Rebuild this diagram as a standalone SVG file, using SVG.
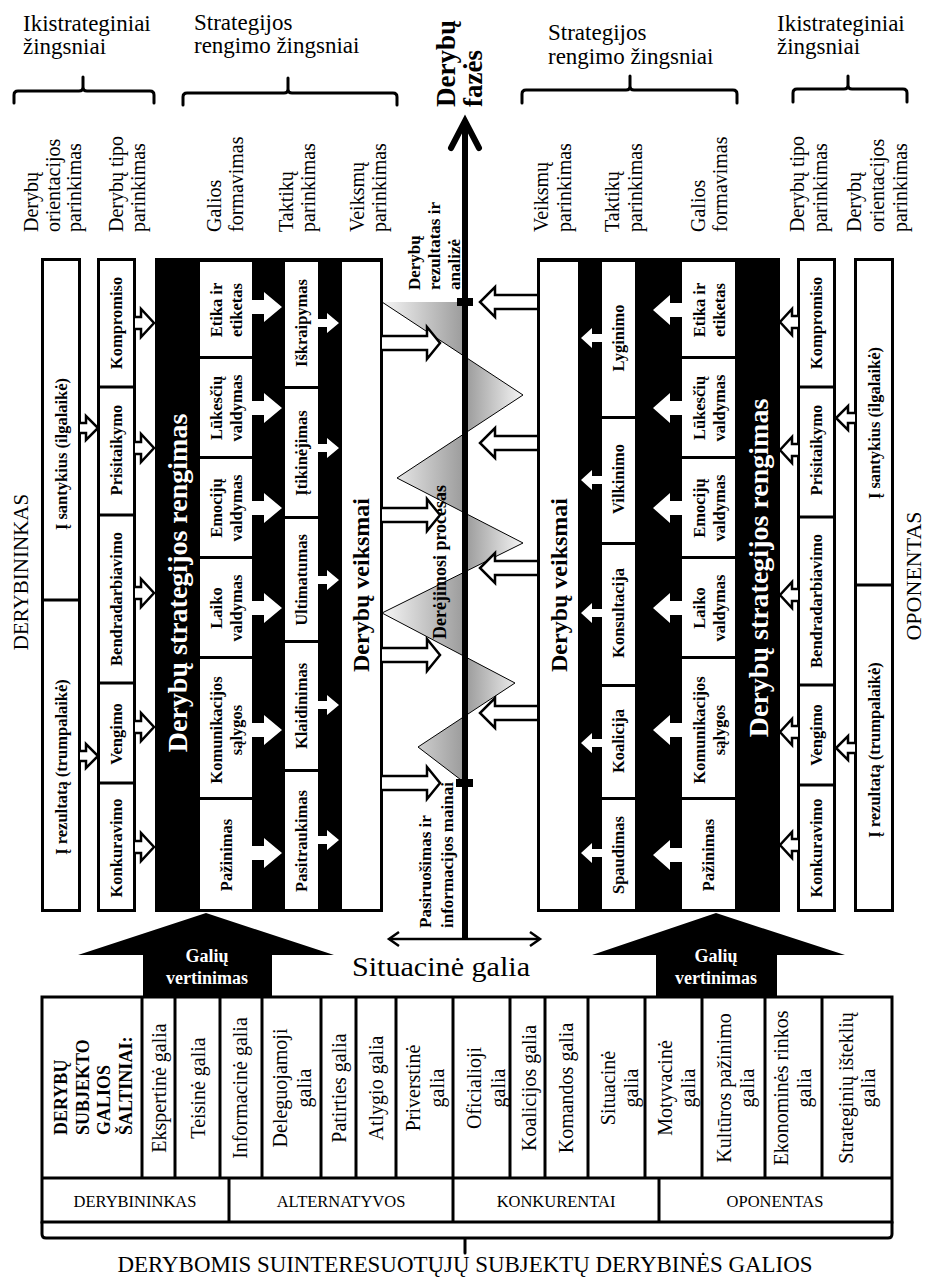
<svg xmlns="http://www.w3.org/2000/svg" width="925" height="1278" viewBox="0 0 925 1278">
<defs>
<style>
text { font-family: "Liberation Serif", "Times New Roman", serif; fill: #000; }
.b { font-weight: bold; }
.m { text-anchor: middle; dominant-baseline: central; }
.st { text-anchor: start; dominant-baseline: central; }
.h { font-size: 23px; }
.cap { font-size: 20px; }
.lbl { font-size: 16.5px; font-weight: bold; }
.tb { font-size: 20px; }
.wt { fill: #fff; }
.frame { fill: #fff; stroke: #000; stroke-width: 3; }
.sep { stroke: #000; stroke-width: 3; }
.brace { fill: none; stroke: #000; stroke-width: 3; stroke-linejoin: round; stroke-linecap: round; }
.ol { fill: #fff; stroke: #000; stroke-width: 2.5; stroke-linejoin: miter; }
.wa { fill: #fff; }
.cell { fill: #fff; }
</style>
<linearGradient id="lobe" gradientUnits="userSpaceOnUse" x1="382" y1="0" x2="523" y2="0">
<stop offset="0" stop-color="#f6f6f6"/>
<stop offset="0.59" stop-color="#9a9a9a"/>
<stop offset="1" stop-color="#f6f6f6"/>
</linearGradient>
</defs>
<rect width="925" height="1278" fill="#fff"/>

<!-- column headings and braces -->
<g id="headings">
<text class="h" x="23" y="31">Ikistrateginiai</text>
<text class="h" x="23" y="54">žingsniai</text>
<text class="h" x="194" y="30">Strategijos</text>
<text class="h" x="194" y="53">rengimo žingsniai</text>
<text class="h" x="548" y="40">Strategijos</text>
<text class="h" x="548" y="64">rengimo žingsniai</text>
<text class="h" x="777" y="31">Ikistrateginiai</text>
<text class="h" x="777" y="54">žingsniai</text>
<path class="brace" d="M14,103 V95 Q14,91 18,91 H79 Q83,91 83,87 V77 M83,87 Q83,91 87,91 H150 Q154,91 154,95 V103"/>
<path class="brace" d="M183,105 V97 Q183,93 187,93 H284 Q288,93 288,89 V78 M288,89 Q288,93 292,93 H393 Q397,93 397,97 V105"/>
<path class="brace" d="M522,103 V94 Q522,90 526,90 H626 Q630,90 630,86 V76 M630,86 Q630,90 634,90 H733 Q737,90 737,94 V103"/>
<path class="brace" d="M793,102 V93 Q793,89 797,89 H844 Q848,89 848,85 V76 M848,85 Q848,89 852,89 H903 Q907,89 907,93 V102"/>

<text class="cap st" transform="translate(31,232) rotate(-90)"><tspan x="0" y="0">Derybų</tspan><tspan x="0" dy="21.5">orientacijos</tspan><tspan x="0" dy="21.5">parinkimas</tspan></text>
<text class="cap st" transform="translate(116,232) rotate(-90)"><tspan x="0" y="0">Derybų tipo</tspan><tspan x="0" dy="22">parinkimas</tspan></text>
<text class="cap st" transform="translate(214,232) rotate(-90)"><tspan x="0" y="0">Galios</tspan><tspan x="0" dy="22">formavimas</tspan></text>
<text class="cap st" transform="translate(286,232) rotate(-90)"><tspan x="0" y="0">Taktikų</tspan><tspan x="0" dy="22">parinkimas</tspan></text>
<text class="cap st" transform="translate(357,232) rotate(-90)"><tspan x="0" y="0">Veiksmų</tspan><tspan x="0" dy="22">parinkimas</tspan></text>

<text class="cap st" transform="translate(541,232) rotate(-90)"><tspan x="0" y="0">Veiksmų</tspan><tspan x="0" dy="23">parinkimas</tspan></text>
<text class="cap st" transform="translate(612,232) rotate(-90)"><tspan x="0" y="0">Taktikų</tspan><tspan x="0" dy="23">parinkimas</tspan></text>
<text class="cap st" transform="translate(698,232) rotate(-90)"><tspan x="0" y="0">Galios</tspan><tspan x="0" dy="22">formavimas</tspan></text>
<text class="cap st" transform="translate(797,232) rotate(-90)"><tspan x="0" y="0">Derybų tipo</tspan><tspan x="0" dy="23">parinkimas</tspan></text>
<text class="cap st" transform="translate(854,232) rotate(-90)"><tspan x="0" y="0">Derybų</tspan><tspan x="0" dy="23">orientacijos</tspan><tspan x="0" dy="23">parinkimas</tspan></text>

<text class="b st" style="font-size:27px" transform="translate(446,107) rotate(-90)"><tspan x="0" y="0">Derybų</tspan><tspan x="0" dy="27">fazės</tspan></text>
</g>

<!-- party labels -->
<text id="label-derybininkas" class="m" style="font-size:21px" transform="translate(21,572) rotate(-90)">DERYBININKAS</text>
<text id="label-oponentas" class="m" style="font-size:22px" transform="translate(913,576) rotate(-90)">OPONENTAS</text>

<!-- process: shaded zigzag between the sides -->
<g id="process">
<polygon points="382,302 523,395 397,478 523,543 382,613 515,683 418,747 465,783 465,302" fill="url(#lobe)"/>
<polyline points="382,302 523,395 397,478 523,543 382,613 515,683 418,747 465,783" fill="none" stroke="#000" stroke-width="1"/>
</g>

<!-- phase axis -->
<g id="phase-axis">
<line x1="465" y1="940" x2="465" y2="123" stroke="#000" stroke-width="6"/>
<polyline points="451,148 465,121 479,148" fill="none" stroke="#000" stroke-width="6" stroke-linecap="round"/>
<rect x="457" y="298" width="16" height="8" fill="#000"/>
<rect x="456" y="779" width="17" height="8" fill="#000"/>
<line x1="390" y1="939" x2="539" y2="939" stroke="#000" stroke-width="2.5"/>
<polyline points="399,932 389,939 399,946" fill="none" stroke="#000" stroke-width="2.5"/>
<polyline points="530,932 540,939 530,946" fill="none" stroke="#000" stroke-width="2.5"/>
<text class="b st" style="font-size:17px" transform="translate(414,290) rotate(-90)"><tspan x="0" y="0">Derybų</tspan><tspan x="0" dy="20">rezultatas ir</tspan><tspan x="0" dy="20">analizė</tspan></text>
<text class="b st" style="font-size:17px" transform="translate(425,928) rotate(-90)"><tspan x="0" y="0">Pasiruošimas ir</tspan><tspan x="0" dy="22">informacijos mainai</tspan></text>
<text class="b m" style="font-size:18px" transform="translate(440,562) rotate(-90)">Derėjimosi procesas</text>
<text class="m" style="font-size:28px" x="441" y="966" textLength="178" lengthAdjust="spacingAndGlyphs">Situacinė galia</text>
</g>

<!-- negotiator side -->
<g id="derybininkas-orientacija">
<rect class="frame" x="42.5" y="259.5" width="37" height="651"/>
<line class="sep" x1="42.5" y1="600" x2="79.5" y2="600"/>
<text class="lbl m" transform="translate(61,454) rotate(-90)">Į santykius (ilgalaikė)</text>
<text class="lbl m" transform="translate(61,767) rotate(-90)">Į rezultatą (trumpalaikė)</text>
</g>
<g id="derybininkas-tipas">
<rect class="frame" x="98.5" y="259.5" width="36" height="651"/>
<line class="sep" x1="98.5" y1="387" x2="134.5" y2="387"/>
<line class="sep" x1="98.5" y1="515" x2="134.5" y2="515"/>
<line class="sep" x1="98.5" y1="683" x2="134.5" y2="683"/>
<line class="sep" x1="98.5" y1="783" x2="134.5" y2="783"/>
<text class="lbl m" transform="translate(116.5,323) rotate(-90)">Kompromiso</text>
<text class="lbl m" transform="translate(116.5,450) rotate(-90)">Prisitaikymo</text>
<text class="lbl m" transform="translate(116.5,599) rotate(-90)">Bendradarbiavimo</text>
<text class="lbl m" transform="translate(116.5,734) rotate(-90)">Vengimo</text>
<text class="lbl m" transform="translate(116.5,848) rotate(-90)">Konkuravimo</text>
</g>
<g id="derybininkas-strategija">
<rect x="155" y="258" width="228" height="654" fill="#000"/>
<text class="b m wt" style="font-size:28px" transform="translate(177,583) rotate(-90)">Derybų strategijos rengimas</text>
<rect class="cell" x="200" y="262" width="52" height="94"/>
<rect class="cell" x="200" y="359" width="52" height="97"/>
<rect class="cell" x="200" y="459" width="52" height="97"/>
<rect class="cell" x="200" y="559" width="52" height="97"/>
<rect class="cell" x="200" y="659" width="52" height="138"/>
<rect class="cell" x="200" y="800" width="52" height="109"/>
<text class="lbl m" transform="translate(226,310) rotate(-90)"><tspan x="0" dy="-10">Etika ir</tspan><tspan x="0" dy="20">etiketas</tspan></text>
<text class="lbl m" transform="translate(226,408) rotate(-90)"><tspan x="0" dy="-10">Lūkesčių</tspan><tspan x="0" dy="20">valdymas</tspan></text>
<text class="lbl m" transform="translate(226,508) rotate(-90)"><tspan x="0" dy="-10">Emocijų</tspan><tspan x="0" dy="20">valdymas</tspan></text>
<text class="lbl m" transform="translate(226,608) rotate(-90)"><tspan x="0" dy="-10">Laiko</tspan><tspan x="0" dy="20">valdymas</tspan></text>
<text class="lbl m" transform="translate(226,730) rotate(-90)"><tspan x="0" dy="-10">Komunikacijos</tspan><tspan x="0" dy="20">sąlygos</tspan></text>
<text class="lbl m" transform="translate(226,855) rotate(-90)">Pažinimas</text>
<rect class="cell" x="285" y="262" width="33" height="124"/>
<rect class="cell" x="285" y="389" width="33" height="127"/>
<rect class="cell" x="285" y="519" width="33" height="121"/>
<rect class="cell" x="285" y="643" width="33" height="126"/>
<rect class="cell" x="285" y="772" width="33" height="137"/>
<text class="lbl m" transform="translate(301.5,323) rotate(-90)">Iškraipymas</text>
<text class="lbl m" transform="translate(301.5,453) rotate(-90)">Įtikinėjimas</text>
<text class="lbl m" transform="translate(301.5,580) rotate(-90)">Ultimatumas</text>
<text class="lbl m" transform="translate(301.5,706) rotate(-90)">Klaidinimas</text>
<text class="lbl m" transform="translate(301.5,841) rotate(-90)">Pasitraukimas</text>
<rect class="cell" x="342" y="262" width="38" height="647"/>
<text class="b m" style="font-size:24px" transform="translate(361,585) rotate(-90)">Derybų veiksmai</text>
</g>

<!-- opponent side -->
<g id="oponentas-strategija">
<rect x="537" y="258" width="243" height="654" fill="#000"/>
<rect class="cell" x="540" y="262" width="38" height="647"/>
<text class="b m" style="font-size:24px" transform="translate(559,585) rotate(-90)">Derybų veiksmai</text>
<rect class="cell" x="602" y="262" width="33" height="154"/>
<rect class="cell" x="602" y="419" width="33" height="123"/>
<rect class="cell" x="602" y="545" width="33" height="139"/>
<rect class="cell" x="602" y="687" width="33" height="110"/>
<rect class="cell" x="602" y="800" width="33" height="109"/>
<text class="lbl m" transform="translate(618.5,338) rotate(-90)">Lyginimo</text>
<text class="lbl m" transform="translate(618.5,479) rotate(-90)">Vilkinimo</text>
<text class="lbl m" transform="translate(618.5,613) rotate(-90)">Konsultacija</text>
<text class="lbl m" transform="translate(618.5,741) rotate(-90)">Koalicija</text>
<text class="lbl m" transform="translate(618.5,855) rotate(-90)">Spaudimas</text>
<rect class="cell" x="682" y="262" width="53" height="94"/>
<rect class="cell" x="682" y="359" width="53" height="97"/>
<rect class="cell" x="682" y="459" width="53" height="97"/>
<rect class="cell" x="682" y="559" width="53" height="97"/>
<rect class="cell" x="682" y="659" width="53" height="138"/>
<rect class="cell" x="682" y="800" width="53" height="109"/>
<text class="lbl m" transform="translate(708.5,310) rotate(-90)"><tspan x="0" dy="-10">Etika ir</tspan><tspan x="0" dy="20">etiketas</tspan></text>
<text class="lbl m" transform="translate(708.5,408) rotate(-90)"><tspan x="0" dy="-10">Lūkesčių</tspan><tspan x="0" dy="20">valdymas</tspan></text>
<text class="lbl m" transform="translate(708.5,508) rotate(-90)"><tspan x="0" dy="-10">Emocijų</tspan><tspan x="0" dy="20">valdymas</tspan></text>
<text class="lbl m" transform="translate(708.5,608) rotate(-90)"><tspan x="0" dy="-10">Laiko</tspan><tspan x="0" dy="20">valdymas</tspan></text>
<text class="lbl m" transform="translate(708.5,730) rotate(-90)"><tspan x="0" dy="-10">Komunikacijos</tspan><tspan x="0" dy="20">sąlygos</tspan></text>
<text class="lbl m" transform="translate(708.5,855) rotate(-90)">Pažinimas</text>
<text class="b m wt" style="font-size:28px" transform="translate(758,568) rotate(-90)">Derybų strategijos rengimas</text>
</g>
<g id="oponentas-tipas">
<rect class="frame" x="798.5" y="259.5" width="36" height="651"/>
<line class="sep" x1="798.5" y1="387" x2="834.5" y2="387"/>
<line class="sep" x1="798.5" y1="517" x2="834.5" y2="517"/>
<line class="sep" x1="798.5" y1="685" x2="834.5" y2="685"/>
<line class="sep" x1="798.5" y1="785" x2="834.5" y2="785"/>
<text class="lbl m" transform="translate(816.5,323) rotate(-90)">Kompromiso</text>
<text class="lbl m" transform="translate(816.5,450) rotate(-90)">Prisitaikymo</text>
<text class="lbl m" transform="translate(816.5,601) rotate(-90)">Bendradarbiavimo</text>
<text class="lbl m" transform="translate(816.5,735) rotate(-90)">Vengimo</text>
<text class="lbl m" transform="translate(816.5,848) rotate(-90)">Konkuravimo</text>
</g>
<g id="oponentas-orientacija">
<rect class="frame" x="855.5" y="259.5" width="37" height="651"/>
<line class="sep" x1="855.5" y1="585" x2="892.5" y2="585"/>
<text class="lbl m" transform="translate(874,423) rotate(-90)">Į santykius (ilgalaikė)</text>
<text class="lbl m" transform="translate(874,750) rotate(-90)">Į rezultatą (trumpalaikė)</text>
</g>

<!-- connectors -->
<g id="connectors">
<!-- orientation -> type -->
<path class="ol" d="M80,423 H86 V416 L98,428 L86,440 V433 H80"/>
<path class="ol" d="M80,751 H86 V744 L98,756 L86,768 V761 H80"/>
<path class="ol" d="M855,413 H848 V406 L836,418 L848,430 V423 H855"/>
<path class="ol" d="M855,743 H848 V736 L836,748 L848,760 V753 H855"/>
<!-- type -> strategy -->
<path class="ol" d="M135,317 H141 V309 L154,323 L141,337 V329 H135"/>
<path class="ol" d="M135,442 H141 V434 L154,448 L141,462 V454 H135"/>
<path class="ol" d="M135,587 H141 V579 L154,593 L141,607 V599 H135"/>
<path class="ol" d="M135,721 H141 V713 L154,727 L141,741 V733 H135"/>
<path class="ol" d="M135,841 H141 V833 L154,847 L141,861 V853 H135"/>
<path class="ol" d="M798,316 H792 V309 L780,322 L792,335 V328 H798"/>
<path class="ol" d="M798,444 H792 V437 L780,450 L792,463 V456 H798"/>
<path class="ol" d="M798,589 H792 V582 L780,595 L792,608 V601 H798"/>
<path class="ol" d="M798,726 H792 V719 L780,732 L792,745 V738 H798"/>
<path class="ol" d="M798,839 H792 V832 L780,845 L792,858 V851 H798"/>
<!-- power -> tactics (white on black) -->
<path class="wa" d="M252,300 H264 V292 L282,307 L264,322 V314 H252 Z"/>
<path class="wa" d="M252,401 H264 V393 L282,408 L264,423 V415 H252 Z"/>
<path class="wa" d="M252,501 H264 V493 L282,508 L264,523 V515 H252 Z"/>
<path class="wa" d="M252,601 H264 V593 L282,608 L264,623 V615 H252 Z"/>
<path class="wa" d="M252,723 H264 V715 L282,730 L264,745 V737 H252 Z"/>
<path class="wa" d="M252,846 H264 V838 L282,853 L264,868 V860 H252 Z"/>
<path class="wa" d="M682,303 H670 V295 L653,310 L670,325 V317 H682 Z"/>
<path class="wa" d="M682,401 H670 V393 L653,408 L670,423 V415 H682 Z"/>
<path class="wa" d="M682,501 H670 V493 L653,508 L670,523 V515 H682 Z"/>
<path class="wa" d="M682,601 H670 V593 L653,608 L670,623 V615 H682 Z"/>
<path class="wa" d="M682,723 H670 V715 L653,730 L670,745 V737 H682 Z"/>
<path class="wa" d="M682,848 H670 V840 L653,855 L670,870 V862 H682 Z"/>
<!-- tactics -> actions (white on black) -->
<path class="wa" d="M318,319 H327 V313 L339,323 L327,333 V327 H318 Z"/>
<path class="wa" d="M318,444 H327 V438 L339,448 L327,458 V452 H318 Z"/>
<path class="wa" d="M318,576 H327 V570 L339,580 L327,590 V584 H318 Z"/>
<path class="wa" d="M318,701 H327 V695 L339,705 L327,715 V709 H318 Z"/>
<path class="wa" d="M318,836 H327 V830 L339,840 L327,850 V844 H318 Z"/>
<path class="wa" d="M602,334 H592 V328 L581,338 L592,348 V342 H602 Z"/>
<path class="wa" d="M602,476 H592 V470 L581,480 L592,490 V484 H602 Z"/>
<path class="wa" d="M602,609 H592 V603 L581,613 L592,623 V617 H602 Z"/>
<path class="wa" d="M602,739 H592 V733 L581,743 L592,753 V747 H602 Z"/>
<path class="wa" d="M602,849 H592 V843 L581,853 L592,863 V857 H602 Z"/>
<!-- actions -> phase axis -->
<path class="ol" d="M382,336 H427 V327 L440,343 L427,359 V350 H382"/>
<path class="ol" d="M382,508 H427 V499 L440,515 L427,531 V522 H382"/>
<path class="ol" d="M382,648 H427 V639 L440,655 L427,671 V662 H382"/>
<path class="ol" d="M382,776 H427 V767 L440,783 L427,799 V790 H382"/>
<path class="ol" d="M537,295 H495 V287 L480,302 L495,317 V309 H537"/>
<path class="ol" d="M537,436 H495 V428 L480,443 L495,458 V450 H537"/>
<path class="ol" d="M537,561 H495 V553 L480,568 L495,583 V575 H537"/>
<path class="ol" d="M537,706 H495 V698 L480,713 L495,728 V720 H537"/>
<!-- power assessment arrows -->
<polygon points="206,913 334,955 272,955 272,998 143,998 143,955 78,955" fill="#000"/>
<polygon points="716,913 845,955 777,955 777,998 656,998 656,955 592,955" fill="#000"/>
<text class="b wt" style="font-size:18px" text-anchor="middle" x="207" y="962">Galių</text>
<text class="b wt" style="font-size:18px" text-anchor="middle" x="207" y="984">vertinimas</text>
<text class="b wt" style="font-size:18px" text-anchor="middle" x="716" y="962">Galių</text>
<text class="b wt" style="font-size:18px" text-anchor="middle" x="716" y="984">vertinimas</text>
</g>

<!-- sources of negotiating power -->
<g id="power-sources">
<rect class="frame" x="42" y="997" width="850" height="225"/>
<line class="sep" x1="42" y1="1178" x2="892" y2="1178"/>
<g class="sep">
<line x1="142" y1="997" x2="142" y2="1178"/>
<line x1="175" y1="997" x2="175" y2="1178"/>
<line x1="220" y1="997" x2="220" y2="1178"/>
<line x1="262" y1="997" x2="262" y2="1178"/>
<line x1="321" y1="997" x2="321" y2="1178"/>
<line x1="356" y1="997" x2="356" y2="1178"/>
<line x1="396" y1="997" x2="396" y2="1178"/>
<line x1="453" y1="997" x2="453" y2="1222"/>
<line x1="510" y1="997" x2="510" y2="1178"/>
<line x1="545" y1="997" x2="545" y2="1178"/>
<line x1="588" y1="997" x2="588" y2="1178"/>
<line x1="645" y1="997" x2="645" y2="1178"/>
<line x1="702" y1="997" x2="702" y2="1178"/>
<line x1="765" y1="997" x2="765" y2="1178"/>
<line x1="822" y1="997" x2="822" y2="1178"/>
<line x1="229" y1="1178" x2="229" y2="1222"/>
<line x1="659" y1="1178" x2="659" y2="1222"/>
</g>
<path class="brace" d="M42,1222 V1234 Q42,1238 46,1238 H888 Q892,1238 892,1234 V1222 M465,1238 V1253"/>
<text class="b st" style="font-size:18px" transform="translate(61,1135) rotate(-90)"><tspan x="0" y="0">DERYBŲ</tspan><tspan x="0" dy="21.5">SUBJEKTO</tspan><tspan x="0" dy="21.5">GALIOS</tspan><tspan x="0" dy="21.5">ŠALTINIAI:</tspan></text>
<text class="tb m" transform="translate(159,1088) rotate(-90)">Ekspertinė galia</text>
<text class="tb m" transform="translate(198,1088) rotate(-90)">Teisinė galia</text>
<text class="tb m" transform="translate(240,1088) rotate(-90)">Informacinė galia</text>
<text class="tb m" transform="translate(292,1088) rotate(-90)"><tspan x="0" dy="-12">Deleguojamoji</tspan><tspan x="0" dy="24">galia</tspan></text>
<text class="tb m" transform="translate(339,1088) rotate(-90)">Patirties galia</text>
<text class="tb m" transform="translate(376,1088) rotate(-90)">Atlygio galia</text>
<text class="tb m" transform="translate(425,1088) rotate(-90)"><tspan x="0" dy="-12">Priverstinė</tspan><tspan x="0" dy="24">galia</tspan></text>
<text class="tb m" transform="translate(486,1088) rotate(-90)"><tspan x="0" dy="-12">Oficialioji</tspan><tspan x="0" dy="24">galia</tspan></text>
<text class="tb m" transform="translate(529,1088) rotate(-90)">Koalicijos galia</text>
<text class="tb m" transform="translate(566,1088) rotate(-90)">Komandos galia</text>
<text class="tb m" transform="translate(619,1088) rotate(-90)"><tspan x="0" dy="-11.5">Situacinė</tspan><tspan x="0" dy="23">galia</tspan></text>
<text class="tb m" transform="translate(676,1088) rotate(-90)"><tspan x="0" dy="-11.5">Motyvacinė</tspan><tspan x="0" dy="23">galia</tspan></text>
<text class="tb m" transform="translate(735,1088) rotate(-90)"><tspan x="0" dy="-11.5">Kultūros pažinimo</tspan><tspan x="0" dy="23">galia</tspan></text>
<text class="tb m" transform="translate(792,1088) rotate(-90)"><tspan x="0" dy="-11.5">Ekonominės rinkos</tspan><tspan x="0" dy="23">galia</tspan></text>
<text class="tb m" transform="translate(857,1088) rotate(-90)"><tspan x="0" dy="-11">Strateginių išteklių</tspan><tspan x="0" dy="22">galia</tspan></text>
<text class="m" style="font-size:16.5px" x="135" y="1201">DERYBININKAS</text>
<text class="m" style="font-size:16.5px" x="341" y="1201">ALTERNATYVOS</text>
<text class="m" style="font-size:16.5px" x="556" y="1201">KONKURENTAI</text>
<text class="m" style="font-size:16.5px" x="775" y="1201">OPONENTAS</text>
<text style="font-size:22.5px" text-anchor="middle" x="465" y="1272" textLength="695" lengthAdjust="spacingAndGlyphs">DERYBOMIS SUINTERESUOTŲJŲ SUBJEKTŲ DERYBINĖS GALIOS</text>
</g>
</svg>
